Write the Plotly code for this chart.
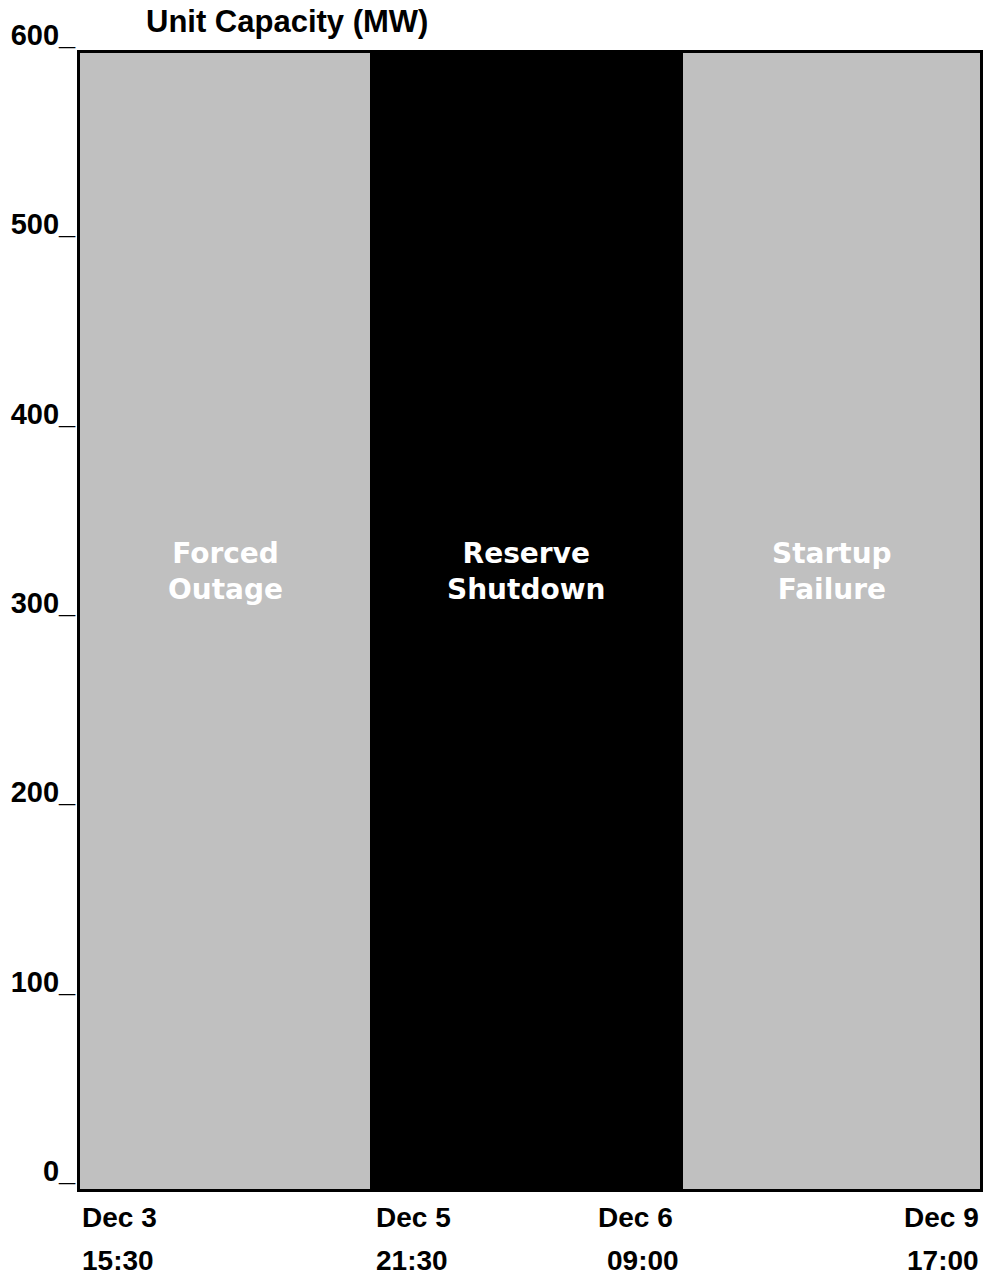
import plotly.graph_objects as go

# ---- data ----
categories = ["Forced<br>Outage", "Reserve<br>Shutdown", "Startup<br>Failure"]
capacity_mw = [600, 600, 600]
bar_colors = ["#C0C0C0", "#000000", "#C0C0C0"]
text_colors = ["#FFFFFF", "#FFFFFF", "#FFFFFF"]
date_labels = ["Dec 3", "Dec 5", "Dec 6", "Dec 9"]
time_labels = ["15:30", "21:30", "09:00", "17:00"]
y_ticks = [0, 100, 200, 300, 400, 500, 600]
y_ticktext = ["0_", "100_", "200_", "300_", "400_", "500_", "600_"]

# ---- layout helpers (relative segment widths as drawn) ----
seg_widths = [291, 314, 298]
edges = [0]
for w in seg_widths:
    edges.append(edges[-1] + w)
centers = [(edges[i] + edges[i + 1]) / 2 for i in range(len(seg_widths))]

SANS = "Liberation Sans, Arial, sans-serif"
X_FONT = dict(family=SANS, size=28, color="#000000")
Y_FONT = dict(family=SANS, size=29, color="#000000")
T_FONT = dict(family=SANS, size=31, color="#000000")
BAR_FONT_FAMILY = "DejaVu Sans, Verdana, sans-serif"

FIG_W, FIG_H = 985, 1280
PL, PT, PR, PB = 80, 53, 983, 1189  # plot area in page pixels
plot_h = PB - PT

fig = go.Figure()
fig.add_trace(go.Bar(
    x=centers, y=capacity_mw, width=seg_widths,
    marker=dict(color=bar_colors, line=dict(width=0)),
    hoverinfo="skip", showlegend=False,
))

annotations = []
# bar labels
for c, lab, col in zip(centers, categories, text_colors):
    annotations.append(dict(
        x=c, y=326, xref="x", yref="y", text="<b>" + lab + "</b>",
        showarrow=False, xanchor="center", yanchor="middle",
        font=dict(family=BAR_FONT_FAMILY, size=28, color=col), align="center",
    ))

# x labels (date + time at segment boundaries)
anchors = ["left", "left", "right", "right"]
date_shift = [0, 4, -8, 1]
time_shift = [0, 4, -2, 1]
y_date = (PB - 1217) / plot_h
y_time = (PB - 1260) / plot_h
for i, (d, t) in enumerate(zip(date_labels, time_labels)):
    annotations.append(dict(
        x=edges[i], y=y_date, xref="x", yref="paper", text="<b>" + d + "</b>",
        showarrow=False, xanchor=anchors[i], yanchor="middle", xshift=date_shift[i],
        font=X_FONT,
    ))
    annotations.append(dict(
        x=edges[i], y=y_time, xref="x", yref="paper", text="<b>" + t + "</b>",
        showarrow=False, xanchor=anchors[i], yanchor="middle", xshift=time_shift[i],
        font=X_FONT,
    ))

# axis title
annotations.append(dict(
    x=(144 - PL) / (PR - PL), y=(PB - 22) / plot_h, xref="paper", yref="paper",
    text="<b>Unit Capacity (MW)</b>", showarrow=False,
    xanchor="left", yanchor="middle", font=T_FONT,
))

fig.update_layout(
    width=FIG_W, height=FIG_H,
    margin=dict(l=PL, r=FIG_W - PR, t=PT, b=FIG_H - PB, pad=0),
    paper_bgcolor="white", plot_bgcolor="white",
    bargap=0,
    annotations=annotations,
    xaxis=dict(range=[edges[0], edges[-1]], showticklabels=False, showgrid=False,
               zeroline=False, showline=True, linecolor="black", linewidth=3,
               mirror=True, ticks=""),
    yaxis=dict(range=[0, 600], tickvals=y_ticks,
               ticktext=["<b>" + t + "</b>" for t in y_ticktext],
               tickfont=Y_FONT, showgrid=False, zeroline=False,
               showline=True, linecolor="black", linewidth=3, mirror=True,
               ticks="", ticklabelshift=-18, ticklabelstandoff=-4),
)

fig.write_html(
    "out.html",
    config={"displayModeBar": False},
    post_script="document.body.style.margin='0';document.body.style.overflow='hidden';",
)
